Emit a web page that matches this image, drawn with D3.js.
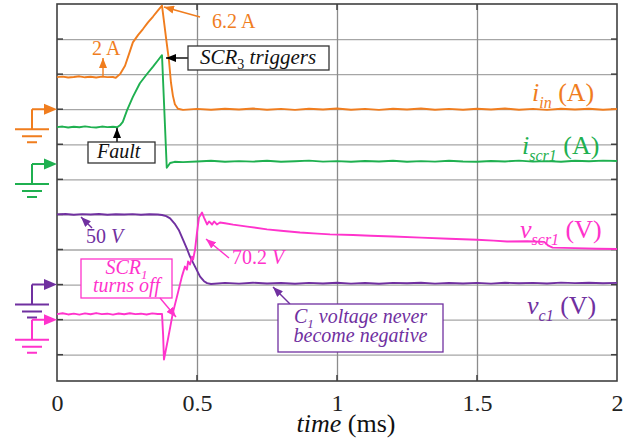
<!DOCTYPE html>
<html>
<head>
<meta charset="utf-8">
<script src="https://cdn.jsdelivr.net/npm/d3@7"></script>
<style>
body { margin: 0; background: #fff; }
svg { display: block; }
</style>
</head>
<body>
<svg width="639" height="446"></svg>
<script>
// x axis (ms)
var timeTicks = [0, 0.5, 1, 1.5, 2];
var tickLabels = ["0", "0.5", "1", "1.5", "2"];
var gridDivs = [1, 2, 3, 4, 5, 6, 7, 8, 9, 10];

// scope readings, [time ms, value]
var iIn = [[0,1.92],[0.02,1.95],[0.04,1.9],[0.06,1.93],[0.08,1.97],[0.1,1.91],[0.12,1.94],[0.14,1.9],[0.16,1.95],[0.18,1.92],[0.2,1.93],[0.21,1.88],
    [0.225,2.1],[0.243,2.6],[0.257,3.3],[0.271,4.0],[0.29,4.45],[0.307,4.8],[0.325,5.2],[0.343,5.55],[0.36,5.9],[0.375,6.2],
    [0.39,4.2],[0.4,2.9],[0.407,1.6],[0.414,0.8],[0.421,0.3],[0.432,0.03],[0.45,-0.04],
    [0.5,0.02],[0.55,-0.03],[0.6,0.03],[0.65,-0.02],[0.7,0.04],[0.75,-0.03],[0.8,0.02],[0.85,-0.04],[0.9,0.03],[0.95,-0.02],
    [1.0,0.04],[1.05,-0.03],[1.1,0.02],[1.15,-0.04],[1.2,0.03],[1.25,-0.02],[1.3,0.04],[1.35,-0.03],[1.4,0.02],[1.45,-0.03],
    [1.5,0.03],[1.55,-0.02],[1.6,0.04],[1.65,-0.03],[1.7,0.02],[1.75,-0.04],[1.8,0.03],[1.85,-0.02],[1.9,0.03],[1.95,-0.03],[2.0,0.01]];

var iScr1 = [[0,2.1],[0.02,2.13],[0.04,2.08],[0.06,2.12],[0.08,2.09],[0.1,2.14],[0.12,2.1],[0.14,2.08],[0.16,2.13],[0.18,2.1],[0.2,2.12],[0.215,2.09],
    [0.225,2.2],[0.235,2.4],[0.25,3.05],[0.271,3.82],[0.296,4.6],[0.32,5.1],[0.343,5.55],[0.36,5.9],[0.375,6.2],
    [0.392,-0.22],[0.404,0.05],[0.42,0.12],[0.45,0.1],
    [0.5,0.14],[0.55,0.18],[0.6,0.12],[0.65,0.16],[0.7,0.13],[0.75,0.18],[0.8,0.12],[0.85,0.15],[0.9,0.19],[0.95,0.13],
    [1.0,0.16],[1.05,0.12],[1.1,0.17],[1.15,0.14],[1.2,0.18],[1.25,0.12],[1.3,0.16],[1.35,0.13],[1.4,0.18],[1.45,0.14],
    [1.5,0.12],[1.55,0.17],[1.6,0.14],[1.65,0.19],[1.7,0.13],[1.75,0.16],[1.8,0.12],[1.85,0.18],[1.9,0.15],[1.95,0.19],[2.0,0.17]];

var vC1 = [[0,50],[0.03,50.3],[0.06,49.8],[0.09,50.2],[0.12,49.9],[0.15,50.3],[0.18,49.8],[0.21,50.1],[0.24,49.9],[0.27,50.2],[0.3,49.8],[0.33,50.1],[0.36,49.9],[0.375,49.6],
    [0.39,48.8],[0.404,47.2],[0.42,43.5],[0.436,38.5],[0.45,32],[0.465,25],[0.475,19.9],[0.493,12.8],[0.511,5.7],[0.525,2.4],[0.536,1.0],[0.55,0.4],
    [0.6,1.2],[0.65,0.7],[0.7,1.3],[0.75,0.8],[0.8,1.1],[0.85,0.6],[0.9,1.2],[0.95,0.8],
    [1.0,1.3],[1.05,0.7],[1.1,1.1],[1.15,0.6],[1.2,1.2],[1.25,0.9],[1.3,1.3],[1.35,0.7],[1.4,1.1],[1.45,0.8],
    [1.5,1.2],[1.55,0.7],[1.6,1.3],[1.65,0.9],[1.7,1.2],[1.75,0.8],[1.8,1.4],[1.85,1.0],[1.9,1.3],[1.95,0.9],[2.0,1.2]];

var vScr1 = [[0,3.6],[0.02,4.2],[0.04,3.4],[0.06,3.9],[0.08,3.3],[0.1,4.1],[0.12,3.5],[0.14,4.3],[0.16,3.6],[0.18,3.9],[0.2,3.3],
    [0.22,4.0],[0.24,3.5],[0.26,4.2],[0.28,3.6],[0.3,3.9],[0.32,3.4],[0.34,4.1],[0.36,3.7],[0.375,3.8],
    [0.379,-10],[0.382,-26.2],[0.396,-13.1],[0.414,4.6],[0.432,17.7],[0.446,28.2],[0.457,34.8],[0.464,32.8],[0.468,38.1],
    [0.475,36.1],[0.482,41.3],[0.486,39.4],[0.493,45.9],[0.5,57.1],[0.507,66.9],[0.518,70.2],[0.525,66.9],[0.536,62.4],
    [0.543,64.4],[0.554,62.4],[0.561,64.4],[0.571,62.4],[0.582,63.7],[0.6,63.2],[0.629,62.3],[0.68,61.0],[0.75,59.2],
    [0.8,58.3],[0.868,57.1],[0.93,56.4],[0.975,55.9],[1.057,55.5],[1.12,55.0],[1.2,54.5],[1.3,53.8],[1.4,53.0],[1.5,52.4],
    [1.56,51.8],[1.607,51.2],[1.68,51.4],[1.74,51.0],[1.755,48.5],[1.77,47.2],[1.85,46.9],[1.93,46.5],[2.0,46.3]];

var serif = "'Liberation Serif', 'Times New Roman', serif";

var svg = d3.select("svg"),
    margin = {top: 4, right: 22, bottom: 65, left: 57},
    width = +svg.attr("width") - margin.left - margin.right,
    height = +svg.attr("height") - margin.top - margin.bottom;

var x = d3.scaleLinear().domain([0, 2]).range([0, width]);
// screen divisions counted down from the top edge
var y = d3.scaleLinear().domain([0, 10.75]).range([0, height]);

// zero = ground marker position (div), perDiv = units per division
var channels = [
    {data: iIn,   color: "#f07d1e", zero: 3.0,  perDiv: 2.1},
    {data: iScr1, color: "#1fb050", zero: 4.56, perDiv: 2},
    {data: vC1,   color: "#7030a0", zero: 8.0,  perDiv: 25},
    {data: vScr1, color: "#ff33cc", zero: 9.0,  perDiv: 23}
];

var g = svg.append("g")
    .attr("transform", "translate(" + margin.left + "," + margin.top + ")");

// grid
g.append("g")
    .call(d3.axisLeft(y).tickValues(gridDivs).tickSize(-width).tickFormat(""))
    .call(function(s) { s.select(".domain").remove(); })
    .selectAll("line").attr("stroke", "#a6a6a6").attr("stroke-width", 1.3);

g.append("g")
    .attr("transform", "translate(0," + height + ")")
    .call(d3.axisBottom(x).tickValues([0.5, 1, 1.5]).tickSize(-height).tickFormat(""))
    .call(function(s) { s.select(".domain").remove(); })
    .selectAll("line").attr("stroke", "#8c8c8c").attr("stroke-width", 1.3);

// short dark ticks on the frame
gridDivs.forEach(function(d) {
    g.append("line").attr("x1", 0).attr("x2", 6).attr("y1", y(d)).attr("y2", y(d))
        .attr("stroke", "#404040").attr("stroke-width", 1.5);
    g.append("line").attr("x1", width - 6).attr("x2", width).attr("y1", y(d)).attr("y2", y(d))
        .attr("stroke", "#404040").attr("stroke-width", 1.5);
});
[0.5, 1, 1.5].forEach(function(t) {
    g.append("line").attr("x1", x(t)).attr("x2", x(t)).attr("y1", 0).attr("y2", 6)
        .attr("stroke", "#404040").attr("stroke-width", 1.5);
    g.append("line").attr("x1", x(t)).attr("x2", x(t)).attr("y1", height - 6).attr("y2", height)
        .attr("stroke", "#404040").attr("stroke-width", 1.5);
});

g.append("rect")
    .attr("width", width).attr("height", height)
    .attr("fill", "none").attr("stroke", "#404040").attr("stroke-width", 1.6);

// x axis labels
var xAxis = g.append("g")
    .attr("transform", "translate(0," + height + ")")
    .call(d3.axisBottom(x).tickValues(timeTicks).tickSize(0)
        .tickFormat(function(d, i) { return tickLabels[i]; }));
xAxis.select(".domain").remove();
xAxis.selectAll("text")
    .attr("y", 30).attr("dy", null)
    .style("font-family", serif).style("font-size", "24px").attr("fill", "#222");

// traces
channels.forEach(function(ch) {
    var line = d3.line()
        .x(function(d) { return x(d[0]); })
        .y(function(d) { return y(ch.zero - d[1] / ch.perDiv); });
    g.append("path")
        .datum(ch.data)
        .attr("fill", "none")
        .attr("stroke", ch.color)
        .attr("stroke-width", 1.9)
        .attr("stroke-linejoin", "round")
        .attr("d", line);
});

// ground markers
channels.forEach(function(ch) {
    var yt = margin.top + y(ch.zero);
    var gm = svg.append("g").attr("stroke", ch.color).attr("stroke-width", 2).attr("fill", "none");
    gm.append("path").attr("d", "M32," + yt + "H46M32," + yt + "V" + (yt + 20));
    gm.append("path").attr("d", "M15," + (yt + 20) + "H49M22," + (yt + 27) + "H42M27," + (yt + 33) + "H37");
    gm.append("path").attr("d", "M57," + yt + "L44," + (yt - 5.5) + "L44," + (yt + 5.5) + "Z")
        .attr("fill", ch.color).attr("stroke", "none");
});

// arrow markers
var defs = svg.append("defs");
function marker(id, color) {
    defs.append("marker")
        .attr("id", id)
        .attr("markerUnits", "userSpaceOnUse")
        .attr("viewBox", "0 0 10 8")
        .attr("markerWidth", 10).attr("markerHeight", 8)
        .attr("refX", 10).attr("refY", 4)
        .attr("orient", "auto")
        .append("path").attr("d", "M0,0L10,4L0,8Z").attr("fill", color);
}
marker("a-or", "#f07d1e");
marker("a-bk", "#000");
marker("a-pu", "#7030a0");
marker("a-pk", "#ff33cc");

function arrow(x1, y1, x2, y2, color, id) {
    svg.append("line")
        .attr("x1", x1).attr("y1", y1).attr("x2", x2).attr("y2", y2)
        .attr("stroke", color).attr("stroke-width", 1.4)
        .attr("marker-end", "url(#" + id + ")");
}

function rich(xp, yp, parts, size, subSize, color, anchor) {
    var t = svg.append("text")
        .attr("x", xp).attr("y", yp)
        .style("font-family", serif)
        .style("font-size", size + "px")
        .attr("fill", color)
        .attr("text-anchor", anchor || "start");
    var shift = 0;
    parts.forEach(function(p) {
        var ts = t.append("tspan").text(p.t);
        if (p.it) ts.style("font-style", "italic");
        var want = p.sub ? Math.round(size * 0.25) : 0;
        if (want !== shift) { ts.attr("dy", want - shift); shift = want; }
        if (p.sub) ts.style("font-size", subSize + "px");
    });
    return t;
}

function box(x0, y0, w, h, color) {
    svg.append("rect").attr("x", x0).attr("y", y0).attr("width", w).attr("height", h)
        .attr("fill", "#fff").attr("stroke", color).attr("stroke-width", 1.3);
}

// annotations
arrow(200, 17, 164, 7, "#f07d1e", "a-or");
rich(212, 28, [{t: "6.2 A"}], 20, 13, "#f07d1e");
arrow(103, 77, 103, 58, "#f07d1e", "a-or");
rich(92, 55, [{t: "2 A"}], 20, 13, "#f07d1e");

arrow(188, 58, 166, 58, "#000", "a-bk");
box(188, 46, 141, 24, "#333");
rich(200, 64, [{t: "SCR", it: true}, {t: "3", sub: true}, {t: " triggers", it: true}], 21, 14, "#111");

arrow(117, 142, 117, 128, "#000", "a-bk");
box(88, 142, 67, 21, "#333");
rich(97, 158, [{t: "Fault", it: true}], 20, 13, "#111");

arrow(92, 228, 81, 217, "#7030a0", "a-pu");
rich(86, 243, [{t: "50 "}, {t: "V", it: true}], 20, 13, "#7030a0");

arrow(229, 258, 206, 239, "#ff33cc", "a-pk");
rich(232, 264, [{t: "70.2 "}, {t: "V", it: true}], 20, 13, "#ff33cc");

box(81, 259, 91, 39, "#ff33cc");
arrow(160, 298, 176, 317, "#ff33cc", "a-pk");
rich(126.5, 274, [{t: "SCR", it: true}, {t: "1", sub: true, it: true}], 20, 13, "#ff33cc", "middle");
rich(126.5, 292, [{t: "turns off", it: true}], 20, 13, "#ff33cc", "middle");

arrow(290, 304, 273, 287, "#7030a0", "a-pu");
box(278, 304, 165, 48, "#7030a0");
rich(360.5, 323, [{t: "C", it: true}, {t: "1", sub: true, it: true}, {t: " voltage never", it: true}], 20, 13, "#7030a0", "middle");
rich(360.5, 342, [{t: "become negative", it: true}], 20, 13, "#7030a0", "middle");

// trace labels
rich(532, 101, [{t: "i", it: true}, {t: "in", sub: true, it: true}, {t: " (A)"}], 26, 16, "#f07d1e");
rich(522, 154, [{t: "i", it: true}, {t: "scr1", sub: true, it: true}, {t: " (A)"}], 26, 16, "#1fb050");
rich(520, 238, [{t: "v", it: true}, {t: "scr1", sub: true, it: true}, {t: " (V)"}], 26, 16, "#ff33cc");
rich(527, 314, [{t: "v", it: true}, {t: "c1", sub: true, it: true}, {t: " (V)"}], 26, 16, "#7030a0");

// axis title
rich(346, 432, [{t: "time", it: true}, {t: " (ms)"}], 26, 16, "#111", "middle");
</script>
</body>
</html>
